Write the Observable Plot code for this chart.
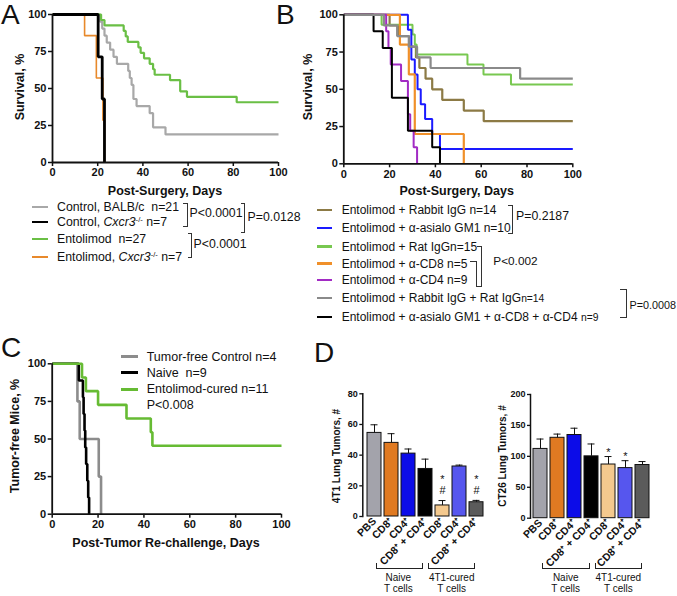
<!DOCTYPE html>
<html><head><meta charset="utf-8">
<script src="https://cdn.jsdelivr.net/npm/d3@7"></script>
<script src="https://cdn.jsdelivr.net/npm/@observablehq/plot@0.6"></script>
<style>
html,body{margin:0;padding:0;background:#fff;}
#fig{position:relative;width:677px;height:596px;overflow:hidden;font-family:"Liberation Sans",Arial,Helvetica,sans-serif;color:#111;}
.t{position:absolute;white-space:nowrap;line-height:1;}
.p{position:absolute;}
.br{position:absolute;border:0 solid #333;box-sizing:border-box;}
.sw{position:absolute;}
sup{font-size:0.62em;vertical-align:0.55em;line-height:0;}
</style></head><body><div id="fig"></div>
<script>
// ---------- DATA ----------
// Panel A: Kaplan–Meier survival, [day, % surviving]
const aControlBalb = [[0,100],[21,95.2],[22,90.5],[23,85.7],[24,81],[25.5,76.2],[27,71.4],[28.5,66.7],[33.5,61.9],[34.2,57.1],[35,52.4],[35.8,42.9],[37.2,38.1],[43,33.3],[44.5,23.8],[50,19],[100,19]];
const aControlCxcr3 = [[0,100],[20.2,71.4],[22,42.9],[23,0]];
const aEntolimod = [[0,100],[21.5,96.3],[23,92.6],[31.5,88.9],[32.4,85.2],[33.3,81.5],[38,77.8],[39,74.1],[40.5,70.4],[43,66.7],[44.5,63],[45.2,59.3],[52,55.6],[56.5,48.1],[59.5,44.4],[81.5,40.7],[100,40.7]];
const aEntolimodCxcr3 = [[0,100],[14.2,85.7],[19.4,57.1],[22.3,28.6],[23,0]];
const aLegend = ["Control, BALB/c&nbsp; n=21","Control, <i>Cxcr3</i><sup>-/-</sup> n=7","Entolimod&nbsp; n=27","Entolimod, <i>Cxcr3</i><sup>-/-</sup> n=7"];
const aPvalues = ["P&lt;0.0001","P=0.0128","P&lt;0.0001"];

// Panel B
const bRabbitIgG = [[0,100],[20,92.9],[24,85.7],[28.5,78.6],[31.5,71.4],[33,64.3],[35.7,57.1],[38.6,50],[43,42.9],[52.4,35.7],[61.1,28.6],[100,28.6]];
const bAsialo = [[0,100],[28,90],[29.5,70],[31,60],[32.2,50],[33.6,40],[35.5,30],[38.6,20],[42,10],[100,10]];
const bRatIgG = [[0,100],[16.5,93.3],[30,86.7],[31,80],[31.8,73.3],[54,66.7],[61,60],[73,53.3],[100,53.3]];
const bCD8 = [[0,100],[24.5,80],[28.4,60],[31,20],[52.4,0]];
const bCD4 = [[0,100],[18.5,88.9],[19.5,77.8],[20.5,66.7],[25,55.6],[28,33.3],[29,22.2],[30.5,11.1],[32,0]];
const bRabbitRat = [[0,100],[17.5,92.9],[23.3,85.7],[28.4,78.6],[32,71.4],[37.9,64.3],[77,57.1],[100,57.1]];
const bAll = [[0,100],[13,88.9],[17,77.8],[21,44.4],[28,22.2],[38.6,11.1],[42,0]];
const bLegend = ["Entolimod + Rabbit IgG n=14","Entolimod + &alpha;-asialo GM1 n=10","Entolimod + Rat IgGn=15","Entolimod + &alpha;-CD8 n=5","Entolimod + &alpha;-CD4 n=9","Entolimod + Rabbit IgG + Rat IgG<small>n=14</small>","Entolimod + &alpha;-asialo GM1 + &alpha;-CD8 + &alpha;-CD4 <small>n=9</small>"];
const bPvalues = ["P=0.2187","P&lt;0.002","P=0.0008"];

// Panel C
const cControl = [[0,100],[11,75],[12,50],[20.3,25],[21.3,0]];
const cNaive = [[0,100],[11.6,88.9],[13.4,77.8],[13.7,66.7],[14.1,55.6],[14.4,44.4],[14.8,33.3],[15.3,22.2],[15.7,11.1],[16.1,0]];
const cCured = [[0,100],[13,90.9],[14.7,81.8],[20,72.7],[32.4,63.6],[43,54.5],[43.7,45.5],[100,45.5]];
const cLegend = ["Tumor-free Control n=4","Naive&nbsp; n=9","Entolimod-cured n=11","P&lt;0.008"];

const kmXTicks = [0,20,40,60,80,100];
const kmYTicks = [0,25,50,75,100];

// Panel D
const dGroups = ["PBS","CD8⁺","CD4⁺","CD8⁺ + CD4⁺","CD8⁺","CD4⁺","CD8⁺ + CD4⁺"];
const d4t1Mean = [54.5,48,41,31,7.2,32.6,9.3];
const d4t1Err  = [59.8,54,44,37.4,10.4,33.5,10.5];
const d4t1Star = ["","","","","*","","*"];
const d4t1Hash = ["","","","","#","","#"];
const dCt26Mean = [112,130,134.5,100,86.8,81,86];
const dCt26Err  = [128,136,145.5,120,99.7,93,91.6];
const dCt26Star = ["","","","","*","*",""];
const dCt26Hash = ["","","","","","",""];
const d4t1Ticks = [0,20,40,60,80];
const dCt26Ticks = [0,50,100,150,200];
const dBracketLabels = [["Naive","T cells"],["4T1-cured","T cells"]];

// ---------- STYLE ----------
const FONT = '"Liberation Sans", Arial, Helvetica, sans-serif';
const dColors = ["#a3a3ab","#e07a22","#0c0ce8","#000000","#f4c98e","#5656ee","#5b5b5b"];

const fig = document.getElementById("fig");
function place(node, left, top){const d=document.createElement("div");d.className="p";d.style.left=left+"px";d.style.top=top+"px";d.appendChild(node);fig.appendChild(d);}
function text(html,x,y,o={}){
  const d=document.createElement("div");d.className="t";d.innerHTML=html;
  d.style.fontSize=(o.size||12.5)+"px"; if(o.bold) d.style.fontWeight="bold";
  d.style.left=x+"px"; d.style.top=y+"px";
  const tx=o.anchor==="middle"?"-50%":o.anchor==="end"?"-100%":"0";
  d.style.transform=`translate(${tx},-50%)`+(o.rotate?` rotate(${o.rotate}deg)`:"");
  fig.appendChild(d); return d;
}
function bracket(l,t,w,h,sides,bw=1.5,col="#333"){
  const d=document.createElement("div");d.className="br";
  Object.assign(d.style,{left:l+"px",top:t+"px",width:w+"px",height:h+"px",borderColor:col});
  for(const s of sides) d.style["border"+s+"Width"]=bw+"px";
  fig.appendChild(d);
}
function swatch(x,y,w,h,color){const d=document.createElement("div");d.className="sw";Object.assign(d.style,{left:x+"px",top:(y-h/2)+"px",width:w+"px",height:h+"px",background:color});fig.appendChild(d);}

function kmPlot(o){
  return Plot.plot({
    width:o.width,height:o.height,marginLeft:o.ml,marginRight:o.mr,marginTop:o.mt,marginBottom:o.mb,
    style:{background:"transparent",fontFamily:FONT,fontSize:"11px",fontWeight:"bold",overflow:"visible",color:"#111"},
    x:{domain:[0,100]}, y:{domain:[0,100]},
    marks:[
      Plot.axisX({ticks:kmXTicks,tickSize:4,tickPadding:2,label:null,strokeWidth:1.5}),
      Plot.axisY({ticks:kmYTicks,tickSize:4,tickPadding:2,label:null,strokeWidth:1.5}),
      ...o.series.map(s=>Plot.line(s.data,{x:d=>d[0],y:d=>d[1],curve:"step-after",stroke:s.color,strokeWidth:s.w,strokeLinejoin:"miter",strokeLinecap:"butt"})),
      Plot.ruleX([0],{strokeWidth:1.8,stroke:"#111"}),
      Plot.ruleY([0],{strokeWidth:1.8,stroke:"#111"})
    ]
  });
}

function barPlot(o){
  const data=dGroups.map((g,i)=>({k:i,mean:o.mean[i],err:o.err[i],color:dColors[i],star:o.star[i],hash:o.hash[i]}));
  return Plot.plot({
    width:o.width,height:o.height,marginLeft:o.ml,marginRight:o.mr,marginTop:o.mt,marginBottom:o.mb,
    style:{background:"transparent",fontFamily:FONT,fontSize:"9px",fontWeight:"bold",overflow:"visible",color:"#111"},
    x:{type:"band",domain:data.map(d=>d.k),paddingInner:0.2,paddingOuter:o.po,align:0.5},
    y:{domain:o.domain},
    color:{type:"identity"},
    marks:[
      Plot.barY(data,{x:"k",y:"mean",fill:"color",stroke:"#111",strokeWidth:1}),
      Plot.ruleX(data,{x:"k",y1:"mean",y2:"err",stroke:"#111",strokeWidth:1}),
      Plot.tickY(data,{x:"k",y:"err",stroke:"#111",strokeWidth:1,inset:3.5}),
      Plot.text(data,{x:"k",y:"err",text:"hash",dy:-10,fontSize:11,fontWeight:"normal"}),
      Plot.text(data,{x:"k",y:"err",text:"star",dy:o.starDy,fontSize:11,fontWeight:"normal"}),
      Plot.axisY({ticks:o.ticks,tickSize:3,tickPadding:2,label:null,strokeWidth:1.3}),
      Plot.axisX({tickSize:0,tickRotate:-45,tickPadding:3,tickFormat:i=>dGroups[i],label:null,fontSize:10.5}),
      Plot.frame({anchor:"left",strokeWidth:1.5,stroke:"#111"})
    ]
  });
}

// ---------- PANEL A ----------
const aColors=["#a8a8a8","#000000","#6abf45","#e8892b"];
place(kmPlot({width:290,height:200,ml:52,mr:12,mt:14,mb:38,series:[
  {data:aControlBalb,color:aColors[0],w:2.2},
  {data:aEntolimod,color:aColors[2],w:2.2},
  {data:aEntolimodCxcr3,color:aColors[3],w:1.6},
  {data:aControlCxcr3,color:aColors[1],w:2.8}
]}),0,0);
text("A",1,15,{size:28});
text("Post-Surgery, Days",165,191,{bold:true,anchor:"middle"});
text("Survival, %",19.5,87,{bold:true,anchor:"middle",rotate:-90});
const aRows=[206.7,221.7,239.3,257.3];
aLegend.forEach((s,i)=>{swatch(32,aRows[i],16,2.2,aColors[i]);text(s,57,aRows[i],{size:12.3});});
bracket(183,202.7,4.5,24,["Top","Right","Bottom"]);
bracket(240.5,202.7,4.5,30.6,["Top","Right","Bottom"]);
bracket(187.5,233.3,4.5,25,["Top","Right","Bottom"]);
text(aPvalues[0],189.5,213.3,{size:12.3});
text(aPvalues[1],247.5,217.3,{size:12.3});
text(aPvalues[2],193.5,244,{size:12.3});

// ---------- PANEL B ----------
const bColors=["#8c7a45","#1a1aff","#78c850","#f0902a","#a22bc4","#8a8a8a","#000000"];
place(kmPlot({width:290,height:200,ml:43.3,mr:17.7,mt:14.3,mb:36.7,series:[
  {data:bRabbitIgG,color:bColors[0],w:2.2},
  {data:bRatIgG,color:bColors[2],w:2},
  {data:bAsialo,color:bColors[1],w:2},
  {data:bCD8,color:bColors[3],w:2.2},
  {data:bCD4,color:bColors[4],w:2},
  {data:bAll,color:bColors[6],w:2},
  {data:bRabbitRat,color:bColors[5],w:2.2}
]}),300,0);
text("B",276,15,{size:28});
text("Post-Surgery, Days",456.7,191,{bold:true,anchor:"middle"});
text("Survival, %",308.3,87,{bold:true,anchor:"middle",rotate:-90});
const bRows=[210,228.3,246.5,263.5,280,298.3,316.7];
bLegend.forEach((s,i)=>{swatch(317,bRows[i],15,2.2,bColors[i]);text(s.replace(/<small>/g,'<span style="font-size:10.3px">').replace(/<\/small>/g,"</span>"),341.7,bRows[i],{size:12});});
bracket(507.5,204.5,5,29,["Top","Right","Bottom"]);
bracket(476.5,245.5,5.2,41,["Top","Right","Bottom"]);
bracket(470,261,6.5,25.5,["Top","Right"]);
bracket(620,289,7.3,28.5,["Top","Right","Bottom"]);
text(bPvalues[0],516,215.7,{size:12.3});
text(bPvalues[1],493.3,261.7,{size:11.8});
text(bPvalues[2],629.5,305,{size:10.8});

// ---------- PANEL C ----------
const cColors=["#8c8c8c","#000000","#66bb33"];
place(kmPlot({width:290,height:210,ml:51.7,mr:9,mt:23.3,mb:36.3,series:[
  {data:cControl,color:cColors[0],w:2.6},
  {data:cNaive,color:cColors[1],w:2.6},
  {data:cCured,color:cColors[2],w:2.6}
]}),0,340);
text("C",1,348,{size:28});
text("Post-Tumor Re-challenge, Days",166,542.7,{bold:true,anchor:"middle"});
text("Tumor-free Mice, %",15,436,{bold:true,anchor:"middle",rotate:-90});
const cRows=[356.7,372.7,389,405];
cLegend.forEach((s,i)=>{ if(i<3) swatch(120.7,cRows[i],17.6,3,cColors[i]); text(s,146.7,cRows[i],{size:12.5}); });

// ---------- PANEL D ----------
text("D",314,353,{size:28});
place(barPlot({width:195,height:216,ml:62.3,mr:7.4,mt:13.3,mb:80,po:0.2,domain:[0,80],ticks:d4t1Ticks,
  mean:d4t1Mean,err:d4t1Err,star:d4t1Star,hash:d4t1Hash,starDy:-21}),300,380);
place(barPlot({width:180,height:216,ml:50,mr:8.3,mt:14,mb:78.3,po:0,domain:[0,200],ticks:dCt26Ticks,
  mean:dCt26Mean,err:dCt26Err,star:dCt26Star,hash:dCt26Hash,starDy:-4}),480,380);
text("4T1 Lung Tumors, #",336.7,456,{bold:true,size:10,anchor:"middle",rotate:-90});
text("CT26 Lung Tumors, #",503.3,456,{bold:true,size:10,anchor:"middle",rotate:-90});
const dBr=[[375.7,47.6,398.3],[428.3,46.7,451.7],[542.3,47.7,565.7],[595,47.3,618.3]];
dBr.forEach(([l,w,c],i)=>{
  bracket(l,562.5,w,6.5,["Left","Right","Bottom"],1.2,"#222");
  const lab=dBracketLabels[i%2];
  text(lab[0],c,578.3,{size:10,anchor:"middle"});
  text(lab[1],c,588.5,{size:10,anchor:"middle"});
});
</script></body></html>
